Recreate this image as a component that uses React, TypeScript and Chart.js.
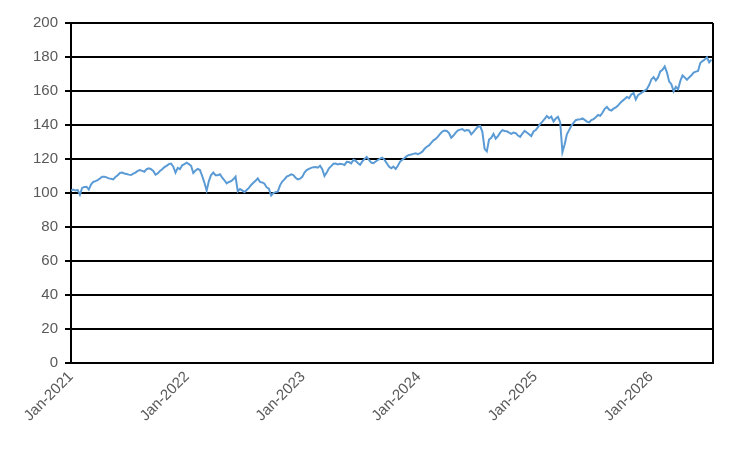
import Chart from "chart.js/auto";
import {useRef, useEffect} from "react";

// weekly closes (first value = first week of Jan 2021)
const values2021 = [
  101.5, 102, 101.5, 101.8, 99, 103, 103.5, 103.7, 102, 105, 106.5, 107, 107.6,
  108.5, 109.6, 109.5, 109.2, 108.6, 108.4, 108, 109.4, 110.5, 111.8, 112, 111.5,
  111.2, 110.8, 110.6, 111.4, 112, 113, 113.5, 113, 112.5, 114, 114.5, 114, 113,
  110.8, 111.5, 113, 114, 115.2, 116, 117, 117.3, 115.5, 112, 114.8, 114, 116.3, 117,
];
const values2022 = [
  117.8, 117, 116, 111.8, 113.2, 114.2, 113.5, 110, 106, 101.4, 107, 110.6, 112,
  110.5, 110.5, 111, 109, 107.5, 105.7, 106.5, 107, 108, 109.6, 101, 102.3, 101.5,
  100.5, 101.8, 103, 104.7, 106, 107.2, 108.6, 106.5, 106.2, 105.5, 103.3, 102.5,
  98.5, 100, 100.5, 100.8, 104.5, 106.7, 108, 109.6, 110.2, 111, 110.5, 109, 108, 108.4,
];
const values2023 = [
  109.5, 112, 113.5, 114.2, 114.8, 115.2, 115.3, 114.9, 116, 114, 110, 112, 114.5,
  115.8, 117.2, 117.3, 116.8, 117.2, 117, 116.5, 118.3, 118.2, 117.4, 119.5, 119,
  117.6, 116.6, 118.6, 120, 121.2, 119.5, 117.9, 117.5, 118.5, 119.4, 120.2, 120.8,
  119.5, 117.5, 115.5, 114.5, 115.5, 114.2, 116, 118.5, 119.6, 120.6, 121.7, 122.4,
  122.6, 123, 123.3,
];
const values2024 = [
  122.8, 123.5, 124.3, 126, 127.2, 128, 129.5, 131, 131.8, 133.2, 134.8, 136.1,
  136.8, 136.5, 135.3, 132.5, 133.8, 135.5, 136.8, 137.3, 137.6, 136.5, 137, 136.8,
  134.5, 136, 137.6, 139, 139.4, 136, 126, 124.5, 131.5, 132.5, 134.8, 132, 133.5,
  135.5, 137, 136.5, 136.3, 135.5, 134.8, 135.5, 135.2, 133.8, 133, 135, 136.5,
  135.6, 134.6, 133.5, 136.2,
];
const values2025 = [
  137, 138.8, 140.6, 142, 143.6, 145.3, 144, 145, 142, 143.8, 144.8, 141.5, 124,
  128.5, 134.5, 137, 139.5, 141.2, 142.8, 143.2, 143.3, 143.9, 143, 142, 141.5,
  142.9, 143.5, 144.5, 145.9, 145.4, 147.2, 149.5, 150.6, 149, 148.5, 149.6, 150.4,
  151.4, 153, 154.2, 155.3, 156.5, 155.8, 158, 158.8, 155, 157.6, 158.5, 159.3,
  160.2, 161.2, 163.5,
];
const values2026 = [
  166.8, 168.2, 166.2, 168, 171.5, 172.5, 174.5, 171, 165.5, 164, 159.8, 162.5,
  161, 165.8, 169.2, 168, 166.6, 168, 169.2, 170.8, 171.4, 171.8, 176.5, 177.6,
  178.5, 179.8, 176.8, 178.4,
];

const seriesValues = [
  ...values2021,
  ...values2022,
  ...values2023,
  ...values2024,
  ...values2025,
  ...values2026,
];

// days since 1 Jan 2021
const tickDays = [0, 365, 730, 1095, 1461, 1826];
const tickLabels = ["Jan-2021", "Jan-2022", "Jan-2023", "Jan-2024", "Jan-2025", "Jan-2026"];
const lastDay = 2021;

const yTicks = [0, 20, 40, 60, 80, 100, 120, 140, 160, 180, 200];

const font = {family: "'Liberation Sans', Arial, sans-serif", size: 15};
const textColor = "#595959";

const App = () => {
  const canvasRef = useRef<HTMLCanvasElement | null>(null);

  useEffect(() => {
    document.body.style.margin = "0";
    const canvas = canvasRef.current;
    if (!canvas) return;

    const points = seriesValues.map((v, i) => ({x: i * 7, y: v}));

    const chart = new Chart(canvas, {
      type: "line",
      data: {
        datasets: [
          {
            data: points,
            borderColor: "#5B9BD5",
            borderWidth: 2,
            pointRadius: 0,
            tension: 0,
            fill: false,
          },
        ],
      },
      options: {
        animation: false,
        responsive: false,
        maintainAspectRatio: false,
        layout: {padding: {left: 0, right: 39, top: 23, bottom: 0}},
        plugins: {
          legend: {display: false},
          tooltip: {enabled: false},
        },
        scales: {
          x: {
            type: "linear",
            min: 0,
            max: lastDay,
            afterBuildTicks: (scale: any) => {
              scale.ticks = [...tickDays, lastDay].map((v) => ({value: v}));
            },
            afterFit: (scale: any) => {
              scale.height = 91;
            },
            ticks: {
              autoSkip: false,
              minRotation: 45,
              maxRotation: 45,
              padding: 5,
              color: textColor,
              font,
              callback: (value: any) => {
                const idx = tickDays.indexOf(Number(value));
                return idx >= 0 ? tickLabels[idx] : "";
              },
            },
            grid: {
              drawTicks: false,
              tickLength: 6,
              lineWidth: 2,
              color: (ctx: any) =>
                ctx.tick && ctx.tick.value === lastDay ? "#000000" : "rgba(0,0,0,0)",
            },
            border: {display: true, color: "#000000", width: 2},
          },
          y: {
            min: 0,
            max: 200,
            afterBuildTicks: (scale: any) => {
              scale.ticks = yTicks.map((v) => ({value: v}));
            },
            afterFit: (scale: any) => {
              scale.width = 71;
            },
            ticks: {
              padding: 7,
              color: textColor,
              font,
            },
            grid: {
              color: "#000000",
              lineWidth: 2,
              tickLength: 6,
            },
            border: {display: true, color: "#000000", width: 2},
          },
        },
      },
    });

    return () => {
      chart.destroy();
    };
  }, []);

  return (
    <div style={{width: 752, height: 454, background: "#ffffff"}}>
      <canvas ref={canvasRef} width={752} height={454}></canvas>
    </div>
  );
};

export default App;
